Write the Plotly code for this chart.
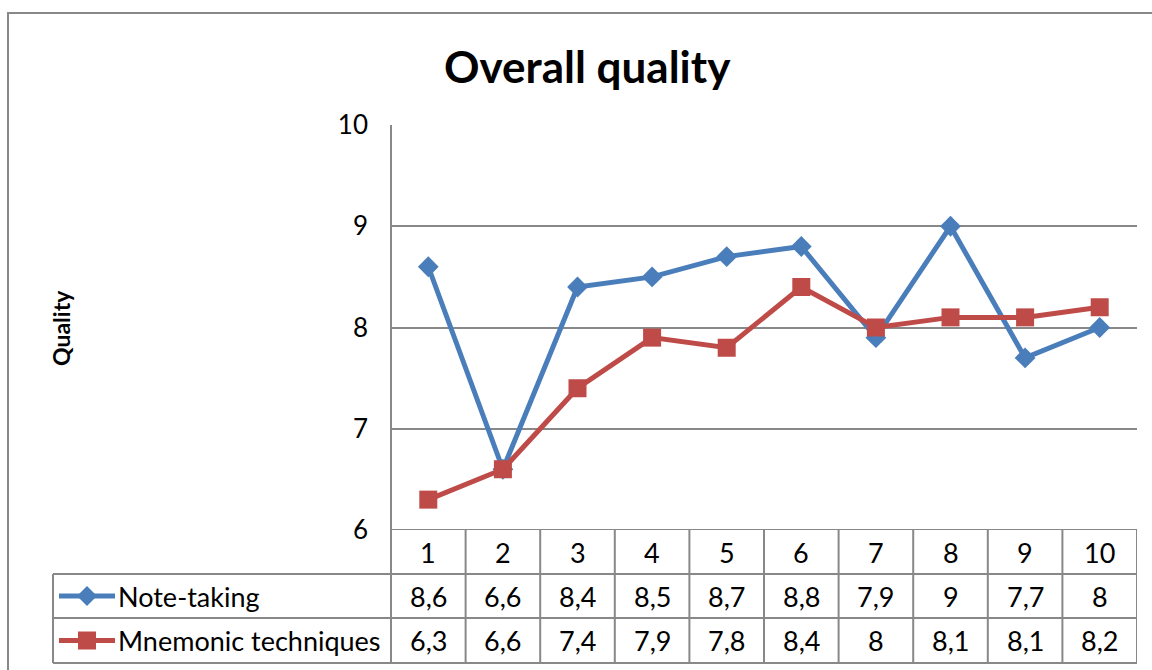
import plotly.graph_objects as go

# Data
categories = [1, 2, 3, 4, 5, 6, 7, 8, 9, 10]
note_taking = [8.6, 6.6, 8.4, 8.5, 8.7, 8.8, 7.9, 9.0, 7.7, 8.0]
mnemonic = [6.3, 6.6, 7.4, 7.9, 7.8, 8.4, 8.0, 8.1, 8.1, 8.2]
series_names = ["Note-taking", "Mnemonic techniques"]
y_ticks = [6, 7, 8, 9, 10]

W, H = 1152, 670
BLUE = "#4A7EBB"
RED = "#BE4B48"
GRID = "#888888"
FONT = "Lato"


def px(x):
    return x / W


def py(y):
    return 1 - y / H


# plot area in pixels
PL, PR, PT, PB = 391, 1137, 125, 530
ROW1, ROW2, TBOT = 574, 618, 663
TLEFT = 53


def fmt(v):
    return f"{v:g}".replace(".", ",")


fig = go.Figure()

fig.add_trace(go.Scatter(
    x=categories, y=note_taking, name=series_names[0], mode="lines+markers",
    line=dict(color=BLUE, width=5),
    marker=dict(symbol="diamond", size=16, color=BLUE),
))
fig.add_trace(go.Scatter(
    x=categories, y=mnemonic, name=series_names[1], mode="lines+markers",
    line=dict(color=RED, width=5),
    marker=dict(symbol="square", size=18, color=RED),
))

shapes = []
line_style = dict(color=GRID, width=2)

# outer chart border
shapes.append(dict(type="rect", xref="paper", yref="paper",
                   x0=px(8), x1=1.02, y0=-0.02, y1=py(13),
                   line=dict(color=GRID, width=2)))

# vertical axis line continuing through the table
shapes.append(dict(type="line", xref="paper", yref="paper",
                   x0=px(PL), x1=px(PL), y0=py(PT), y1=py(TBOT), line=line_style))
# table left edge
shapes.append(dict(type="line", xref="paper", yref="paper",
                   x0=px(TLEFT), x1=px(TLEFT), y0=py(ROW1), y1=py(TBOT), line=line_style))
# table horizontal lines
for yy in [ROW1, ROW2, TBOT]:
    shapes.append(dict(type="line", xref="paper", yref="paper",
                       x0=px(TLEFT), x1=px(PR), y0=py(yy), y1=py(yy), line=line_style))
# column separators
for k in range(len(categories)):
    xb = categories[k] + 0.5
    shapes.append(dict(type="line", xref="x", yref="paper",
                       x0=xb, x1=xb, y0=py(PB), y1=py(TBOT), line=line_style))

# legend keys drawn in the table's first column
def key_shapes(color, yc, kind):
    out = [dict(type="line", xref="paper", yref="paper",
                x0=px(59), x1=px(115), y0=py(yc), y1=py(yc),
                line=dict(color=color, width=5))]
    cx = 87
    if kind == "diamond":
        r = 10
        path = (f"M {px(cx - r)} {py(yc)} L {px(cx)} {py(yc - r)} "
                f"L {px(cx + r)} {py(yc)} L {px(cx)} {py(yc + r)} Z")
        out.append(dict(type="path", xref="paper", yref="paper", path=path,
                        fillcolor=color, line=dict(color=color, width=0)))
    else:
        r = 9
        out.append(dict(type="rect", xref="paper", yref="paper",
                        x0=px(cx - r), x1=px(cx + r), y0=py(yc + r), y1=py(yc - r),
                        fillcolor=color, line=dict(color=color, width=0)))
    return out


shapes += key_shapes(BLUE, (ROW1 + ROW2) / 2, "diamond")
shapes += key_shapes(RED, (ROW2 + TBOT) / 2, "square")

annotations = []
cell_font = dict(family=FONT, size=27, color="black")
for i, c in enumerate(categories):
    annotations.append(dict(x=c, y=py((PB + ROW1) / 2), xref="x", yref="paper",
                            text=str(c), showarrow=False, font=cell_font,
                            xanchor="center", yanchor="middle"))
    annotations.append(dict(x=c, y=py((ROW1 + ROW2) / 2), xref="x", yref="paper",
                            text=fmt(note_taking[i]), showarrow=False, font=cell_font,
                            xanchor="center", yanchor="middle"))
    annotations.append(dict(x=c, y=py((ROW2 + TBOT) / 2), xref="x", yref="paper",
                            text=fmt(mnemonic[i]), showarrow=False, font=cell_font,
                            xanchor="center", yanchor="middle"))

annotations.append(dict(x=px(116), y=py((ROW1 + ROW2) / 2), xref="paper", yref="paper",
                        text=series_names[0], showarrow=False, font=cell_font,
                        xanchor="left", yanchor="middle"))
annotations.append(dict(x=px(116), y=py((ROW2 + TBOT) / 2), xref="paper", yref="paper",
                        text=series_names[1], showarrow=False, font=cell_font,
                        xanchor="left", yanchor="middle"))

# chart title
annotations.append(dict(x=px(587), y=py(66), xref="paper", yref="paper",
                        text="<b>Overall quality</b>", showarrow=False,
                        font=dict(family=FONT, size=44, color="black"),
                        xanchor="center", yanchor="middle"))
# axis title
annotations.append(dict(x=px(61), y=py(328), xref="paper", yref="paper",
                        text="<b>Quality</b>", showarrow=False, textangle=-90,
                        font=dict(family=FONT, size=23, color="black"),
                        xanchor="center", yanchor="middle"))

fig.update_layout(
    template="none",
    width=W, height=H,
    margin=dict(l=0, r=0, t=0, b=0, pad=0),
    paper_bgcolor="white", plot_bgcolor="white",
    showlegend=False,
    xaxis=dict(domain=[px(PL), px(PR)], range=[0.5, 10.5], automargin=False,
               showticklabels=False, showgrid=False, zeroline=False,
               showline=False, ticks="", fixedrange=True),
    yaxis=dict(domain=[py(PB), py(PT)], range=[6, 10], tickvals=y_ticks,
               automargin=False,
               showgrid=True, gridcolor=GRID, gridwidth=2, zeroline=False,
               showline=False, ticks="", ticklabelstandoff=22,
               tickfont=dict(family=FONT, size=26, color="black")),
    shapes=shapes,
    annotations=annotations,
)

# bottom axis line at the lowest gridline
fig.add_shape(type="line", xref="paper", yref="y", x0=px(PL), x1=px(PR), y0=6, y1=6,
              line=line_style)

fig.write_html("out.html")
